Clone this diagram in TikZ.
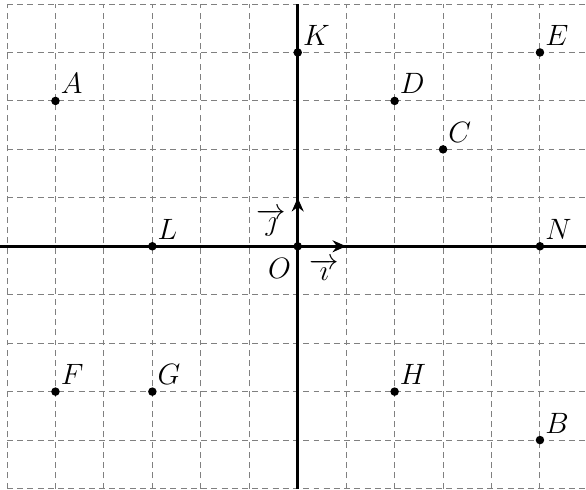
\documentclass[tikz,border=0pt]{standalone}
\usetikzlibrary{arrows.meta}
\begin{document}
\begin{tikzpicture}[x=1cm,y=1cm,
  gridline/.style={gray, dashed, line width=0.6pt, dash pattern=on 3.5pt off 2.5pt},
  axisline/.style={line width=1.7pt},
  vecline/.style={line width=1.7pt,-{Stealth[length=8pt,width=7pt]}},
  pt/.style={circle, fill=black, inner sep=0pt, minimum size=5pt},
  lab/.style={font=\fontsize{16}{18}\selectfont, inner sep=1pt}]
\useasboundingbox (-6.145,-5.03) rectangle (5.95,5.083);
\draw[gridline] (-6,-5) grid (6.5,5);
\draw[axisline] (-6.2,0) -- (6.2,0);
\draw[axisline] (0,-5) -- (0,5);
\node[pt] (O) at (0,0) {};
\coordinate (I) at (1,0);
\coordinate (J) at (0,1);
\draw[vecline] (O.center) -- (I);
\draw[vecline] (O.center) -- (J);
\node[lab, anchor=north east] at (-0.1,-0.2) {$O$};
\node[lab, anchor=north west] at (0.2,-0.22) {$\overrightarrow{\imath}$};
\node[lab, anchor=north east] at (-0.2,0.82) {$\overrightarrow{\jmath}$};
\foreach \n/\x/\y in {A/-5/3, K/0/4, D/2/3, E/5/4, C/3/2, L/-3/0, N/5/0, F/-5/-3, G/-3/-3, H/2/-3, B/5/-4}{
  \node[pt] (\n) at (\x,\y) {};
  \node[lab, anchor=south west] at ([xshift=0pt,yshift=1pt]\n.north east) {$\n$};
}
\end{tikzpicture}
\end{document}
